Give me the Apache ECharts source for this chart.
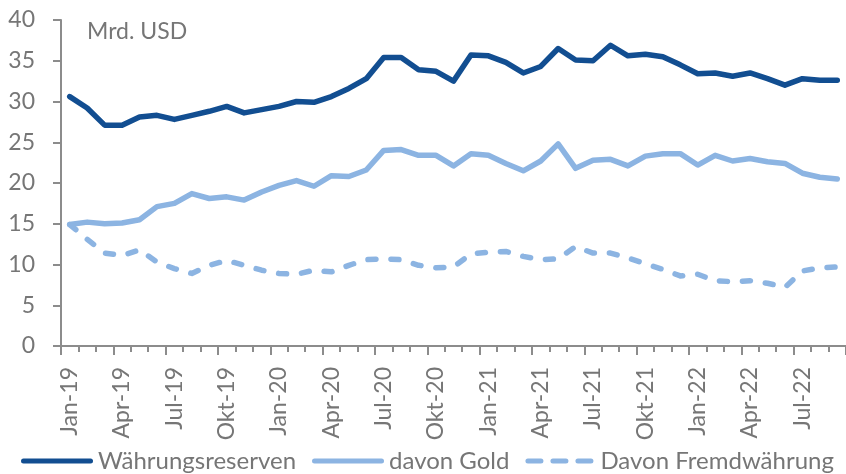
<!DOCTYPE html>
<html>
<head>
<meta charset="utf-8">
<script src="https://cdn.jsdelivr.net/npm/echarts@6/dist/echarts.min.js"></script>
<style>
  html, body { margin: 0; padding: 0; background: #fff; }
  #chart { width: 846px; height: 474px; }
</style>
</head>
<body>
<div id="chart"></div>
<script>
// Monthly reserves, Jan-19 .. Sep-22 (Mrd. USD)
const months = [
  'Jan-19','Feb-19','Mrz-19','Apr-19','Mai-19','Jun-19','Jul-19','Aug-19','Sep-19','Okt-19','Nov-19','Dez-19',
  'Jan-20','Feb-20','Mrz-20','Apr-20','Mai-20','Jun-20','Jul-20','Aug-20','Sep-20','Okt-20','Nov-20','Dez-20',
  'Jan-21','Feb-21','Mrz-21','Apr-21','Mai-21','Jun-21','Jul-21','Aug-21','Sep-21','Okt-21','Nov-21','Dez-21',
  'Jan-22','Feb-22','Mrz-22','Apr-22','Mai-22','Jun-22','Jul-22','Aug-22','Sep-22'
];

const reserves = [
  30.6, 29.2, 27.1, 27.1, 28.1, 28.3, 27.8, 28.3, 28.8, 29.4, 28.6, 29.0,
  29.4, 30.0, 29.9, 30.6, 31.6, 32.8, 35.4, 35.4, 33.9, 33.7, 32.5, 35.7,
  35.6, 34.8, 33.5, 34.3, 36.5, 35.1, 35.0, 36.9, 35.6, 35.8, 35.5, 34.5,
  33.4, 33.5, 33.1, 33.5, 32.8, 32.0, 32.8, 32.6, 32.6
];

const gold = [
  14.9, 15.2, 15.0, 15.1, 15.5, 17.1, 17.5, 18.7, 18.1, 18.3, 17.9, 18.9,
  19.7, 20.3, 19.6, 20.9, 20.8, 21.6, 24.0, 24.1, 23.4, 23.4, 22.1, 23.6,
  23.4, 22.4, 21.5, 22.7, 24.8, 21.8, 22.8, 22.9, 22.1, 23.3, 23.6, 23.6,
  22.2, 23.4, 22.7, 23.0, 22.6, 22.4, 21.2, 20.7, 20.5
];

const foreignCurrency = [
  14.9, 13.1, 11.4, 11.1, 11.8, 10.3, 9.5, 8.9, 9.9, 10.5, 9.9, 9.3,
  8.9, 8.8, 9.3, 9.1, 9.9, 10.6, 10.7, 10.6, 9.9, 9.6, 9.7, 11.3,
  11.5, 11.6, 11.0, 10.6, 10.7, 12.2, 11.4, 11.4, 10.8, 10.1, 9.4, 8.6,
  8.8, 8.0, 7.9, 8.0, 7.7, 7.2, 9.2, 9.6, 9.7
];

const seriesNames = ['Währungsreserven', 'davon Gold', 'Davon Fremdwährung'];
const unitLabel = 'Mrd. USD';

const DARK = '#124e91';
const LIGHT = '#8cb4e2';
const GREY = '#767676';
const AXIS = '#8c8c8c';
const FONT = 'Lato, "Liberation Sans", sans-serif';

// Legend keys: a solid rounded bar and a row of three rounded dashes
const SOLID_KEY = 'path://M2.5,0 H69.5 A2.5,2.5 0 0 1 69.5,5 H2.5 A2.5,2.5 0 0 1 2.5,0 Z';
const DASH_KEY = 'path://M2.5,0 H15.5 A2.5,2.5 0 0 1 15.5,5 H2.5 A2.5,2.5 0 0 1 2.5,0 Z ' +
  'M27.5,0 H40.5 A2.5,2.5 0 0 1 40.5,5 H27.5 A2.5,2.5 0 0 1 27.5,0 Z ' +
  'M52.5,0 H65.5 A2.5,2.5 0 0 1 65.5,5 H52.5 A2.5,2.5 0 0 1 52.5,0 Z';

const chart = echarts.init(document.getElementById('chart'), null, { renderer: 'canvas' });

chart.setOption({
  animation: false,
  backgroundColor: '#fff',
  textStyle: { fontFamily: FONT },
  grid: { left: 61, right: 0, top: 20, bottom: 128, containLabel: false },
  graphic: [{
    type: 'text',
    left: 87,
    top: 20,
    style: { text: unitLabel, fill: GREY, font: '23px ' + FONT }
  }],
  legend: {
    top: 444,
    left: 16,
    itemWidth: 72,
    itemHeight: 5,
    itemGap: 16,
    textStyle: { color: GREY, fontSize: 24, fontFamily: FONT },
    data: [
      { name: seriesNames[0], icon: SOLID_KEY },
      { name: seriesNames[1], icon: SOLID_KEY },
      { name: seriesNames[2], icon: DASH_KEY, itemStyle: { color: LIGHT } }
    ]
  },
  xAxis: [{
    type: 'category',
    data: months,
    boundaryGap: true,
    axisLine: { lineStyle: { color: AXIS, width: 2 } },
    axisTick: { show: true, interval: 0, length: 6, lineStyle: { color: AXIS, width: 2 } },
    axisLabel: {
      interval: 2,
      rotate: 90,
      margin: 21,
      color: GREY,
      fontSize: 23,
      fontFamily: FONT
    }
  }, {
    type: 'category',
    data: months,
    boundaryGap: true,
    position: 'bottom',
    axisLine: { show: false },
    axisTick: { show: true, interval: 2, length: 9, lineStyle: { color: AXIS, width: 2 } },
    axisLabel: { show: false }
  }],
  yAxis: {
    type: 'value',
    min: 0,
    max: 40,
    interval: 5,
    splitLine: { show: false },
    axisLine: { show: true, lineStyle: { color: AXIS, width: 2 } },
    axisTick: { show: true, length: 8, lineStyle: { color: AXIS, width: 2 } },
    axisLabel: { color: GREY, fontSize: 23, margin: 26, fontFamily: FONT }
  },
  series: [{
    name: seriesNames[0],
    type: 'line',
    data: reserves,
    symbol: 'none',
    color: DARK,
    lineStyle: { color: DARK, width: 5.5, cap: 'round', join: 'round' }
  }, {
    name: seriesNames[1],
    type: 'line',
    data: gold,
    symbol: 'none',
    color: LIGHT,
    lineStyle: { color: LIGHT, width: 5.5, cap: 'round', join: 'round' }
  }, {
    name: seriesNames[2],
    type: 'line',
    data: foreignCurrency,
    symbol: 'none',
    color: LIGHT,
    lineStyle: { color: LIGHT, width: 5.5, type: [8, 15], cap: 'round', join: 'round' }
  }]
});
</script>
</body>
</html>
